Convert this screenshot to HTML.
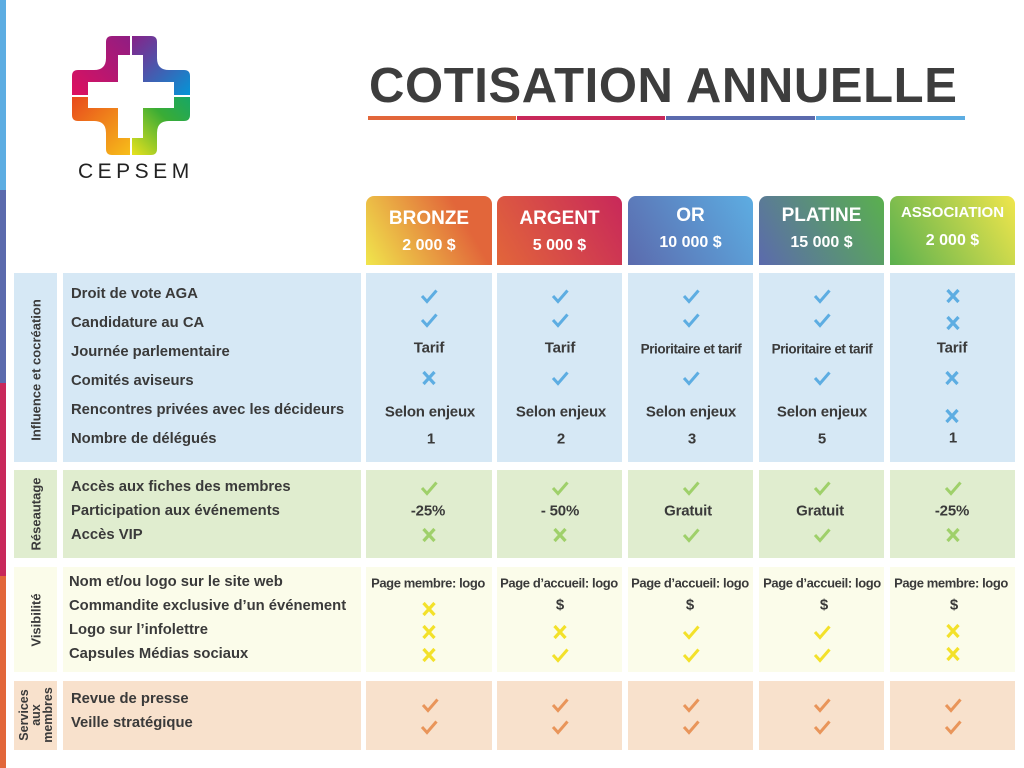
<!DOCTYPE html>
<html><head><meta charset="utf-8">
<style>
*{margin:0;padding:0;box-sizing:border-box}
body{width:1024px;height:768px;background:#fff;position:relative;overflow:hidden;font-family:"Liberation Sans",sans-serif;color:#3a3a3a}
.a{position:absolute}
.bx{position:absolute}
.t{position:absolute;font-weight:bold;font-size:15px;white-space:nowrap;transform:translate(-50%,-50%);letter-spacing:-0.2px}
.l{position:absolute;font-weight:bold;font-size:14.8px;white-space:nowrap;left:71px;transform:translateY(-50%)}
.s{position:absolute;font-weight:bold;font-size:13px;white-space:nowrap;transform:translate(-50%,-50%) rotate(-90deg);text-align:center;line-height:13px}
.i{position:absolute;width:20px;height:16px}
.h{position:absolute;top:196px;height:69px;border-radius:8px 8px 0 0;color:#fff;font-weight:bold;text-align:center}
.h b{display:block;font-size:19px;margin-top:12px}
.h span{display:block;font-size:16px;margin-top:7px}
.b{color:#5dade2}.g{color:#9fd06a}.y{color:#f3e12a}.o{color:#e9955a}
</style></head><body>
<svg width="0" height="0" style="position:absolute">
<symbol id="ck" viewBox="0 0 20 16"><path d="M3 8 L8 13.5 L17.5 2.5" fill="none" stroke="currentColor" stroke-width="3"/></symbol>
<symbol id="x" viewBox="0 0 20 16"><path d="M4.5 2 L15.5 14 M15.5 2 L4.5 14" fill="none" stroke="currentColor" stroke-width="3.2"/></symbol>
</svg>

<div class="a" style="left:0;top:0;width:6px;height:190px;background:#5dade2"></div>
<div class="a" style="left:0;top:190px;width:6px;height:193px;background:#5b6aad"></div>
<div class="a" style="left:0;top:383px;width:6px;height:193px;background:#c8285a"></div>
<div class="a" style="left:0;top:576px;width:6px;height:192px;background:#e2663a"></div>

<svg class="a" style="left:70px;top:34px" width="124" height="124" viewBox="70 34 124 124">
<defs>
<clipPath id="cr"><path d="M112 36 H151 Q157 36 157 42 V58 Q157 70 169 70 H184 Q190 70 190 76 V115 Q190 121 184 121 H169 Q157 121 157 133 V149 Q157 155 151 155 H112 Q106 155 106 149 V133 Q106 121 94 121 H78 Q72 121 72 115 V76 Q72 70 78 70 H94 Q106 70 106 58 V42 Q106 36 112 36Z"/></clipPath>
<linearGradient id="q1" x1="0" y1="1" x2="1" y2="0"><stop offset="0" stop-color="#e0105e"/><stop offset="1" stop-color="#8d1e84"/></linearGradient>
<linearGradient id="q2" x1="0" y1="0" x2="1" y2="1"><stop offset="0" stop-color="#8a1f86"/><stop offset="1" stop-color="#0098d9"/></linearGradient>
<linearGradient id="q3" x1="0" y1="0" x2="1" y2="1"><stop offset="0" stop-color="#e8461c"/><stop offset="1" stop-color="#f7c21a"/></linearGradient>
<linearGradient id="q4" x1="1" y1="0" x2="0" y2="1"><stop offset="0" stop-color="#14a66a"/><stop offset="0.4" stop-color="#3aac35"/><stop offset="1" stop-color="#f2e51c"/></linearGradient>
</defs>
<g clip-path="url(#cr)">
<rect x="70" y="34" width="61" height="62" fill="url(#q1)"/>
<rect x="131" y="34" width="62" height="62" fill="url(#q2)"/>
<rect x="70" y="96" width="61" height="62" fill="url(#q3)"/>
<rect x="131" y="96" width="62" height="62" fill="url(#q4)"/>
</g>
<path d="M118 55 H143 V82 H174 V108 H143 V138 H118 V108 H88 V82 H118Z" fill="#fff"/>
<rect x="130" y="34" width="2" height="124" fill="#fff"/>
<rect x="70" y="95" width="124" height="2" fill="#fff"/>
</svg>
<div class="a" style="left:78px;top:160px;font-size:21px;letter-spacing:4.5px;color:#222;font-weight:normal">CEPSEM</div>

<div class="a" style="left:369px;top:58px;font-size:49px;font-weight:bold;color:#3d3d3d;letter-spacing:0.6px;white-space:nowrap">COTISATION ANNUELLE</div>
<div class="a" style="left:368px;top:116px;width:148px;height:4px;background:#e2663a"></div>
<div class="a" style="left:517px;top:116px;width:148px;height:4px;background:#c8285a"></div>
<div class="a" style="left:666px;top:116px;width:149px;height:4px;background:#5b6aad"></div>
<div class="a" style="left:816px;top:116px;width:149px;height:4px;background:#5dade2"></div>

<div class="h" style="left:366px;width:126px;background:linear-gradient(60deg,#f0e64c,#e2663a 75%)"><b>BRONZE</b><span>2 000 $</span></div>
<div class="h" style="left:497px;width:125px;background:linear-gradient(60deg,#e2663a,#c8285a)"><b>ARGENT</b><span>5 000 $</span></div>
<div class="h" style="left:628px;width:125px;background:linear-gradient(60deg,#5b6aad,#5dade2)"><b style="margin-top:9px">OR</b><span>10 000 $</span></div>
<div class="h" style="left:759px;width:125px;background:linear-gradient(60deg,#5b6aad,#5ab04e)"><b style="margin-top:9px">PLATINE</b><span>15 000 $</span></div>
<div class="h" style="left:890px;width:125px;background:linear-gradient(60deg,#5ab04e,#f0e64c)"><b style="margin-top:8px;font-size:15px">ASSOCIATION</b><span style="margin-top:11px">2 000 $</span></div>

<div class="bx" style="left:14px;top:273px;width:43px;height:189px;background:#d6e8f5"></div>
<div class="bx" style="left:63px;top:273px;width:298px;height:189px;background:#d6e8f5"></div>
<div class="bx" style="left:366px;top:273px;width:126px;height:189px;background:#d6e8f5"></div>
<div class="bx" style="left:497px;top:273px;width:125px;height:189px;background:#d6e8f5"></div>
<div class="bx" style="left:628px;top:273px;width:125px;height:189px;background:#d6e8f5"></div>
<div class="bx" style="left:759px;top:273px;width:125px;height:189px;background:#d6e8f5"></div>
<div class="bx" style="left:890px;top:273px;width:125px;height:189px;background:#d6e8f5"></div>

<div class="bx" style="left:14px;top:470px;width:43px;height:88px;background:#e0edcf"></div>
<div class="bx" style="left:63px;top:470px;width:298px;height:88px;background:#e0edcf"></div>
<div class="bx" style="left:366px;top:470px;width:126px;height:88px;background:#e0edcf"></div>
<div class="bx" style="left:497px;top:470px;width:125px;height:88px;background:#e0edcf"></div>
<div class="bx" style="left:628px;top:470px;width:125px;height:88px;background:#e0edcf"></div>
<div class="bx" style="left:759px;top:470px;width:125px;height:88px;background:#e0edcf"></div>
<div class="bx" style="left:890px;top:470px;width:125px;height:88px;background:#e0edcf"></div>

<div class="bx" style="left:14px;top:567px;width:43px;height:105px;background:#fbfcea"></div>
<div class="bx" style="left:63px;top:567px;width:298px;height:105px;background:#fbfcea"></div>
<div class="bx" style="left:366px;top:567px;width:126px;height:105px;background:#fbfcea"></div>
<div class="bx" style="left:497px;top:567px;width:125px;height:105px;background:#fbfcea"></div>
<div class="bx" style="left:628px;top:567px;width:125px;height:105px;background:#fbfcea"></div>
<div class="bx" style="left:759px;top:567px;width:125px;height:105px;background:#fbfcea"></div>
<div class="bx" style="left:890px;top:567px;width:125px;height:105px;background:#fbfcea"></div>

<div class="bx" style="left:14px;top:681px;width:43px;height:69px;background:#f8e1cc"></div>
<div class="bx" style="left:63px;top:681px;width:298px;height:69px;background:#f8e1cc"></div>
<div class="bx" style="left:366px;top:681px;width:126px;height:69px;background:#f8e1cc"></div>
<div class="bx" style="left:497px;top:681px;width:125px;height:69px;background:#f8e1cc"></div>
<div class="bx" style="left:628px;top:681px;width:125px;height:69px;background:#f8e1cc"></div>
<div class="bx" style="left:759px;top:681px;width:125px;height:69px;background:#f8e1cc"></div>
<div class="bx" style="left:890px;top:681px;width:125px;height:69px;background:#f8e1cc"></div>

<div class="s" style="left:36px;top:370px">Influence et cocréation</div>
<div class="s" style="left:36px;top:514px">Réseautage</div>
<div class="s" style="left:36px;top:620px">Visibilité</div>
<div class="s" style="left:36px;top:715px;line-height:12px;font-size:12.5px">Services<br>aux<br>membres</div>

<div class="l" style="top:294px">Droit de vote AGA</div>
<div class="l" style="top:323px">Candidature au CA</div>
<div class="l" style="top:352px">Journée parlementaire</div>
<div class="l" style="top:381px">Comités aviseurs</div>
<div class="l" style="top:410px">Rencontres privées avec les décideurs</div>
<div class="l" style="top:439px">Nombre de délégués</div>
<div class="l" style="top:487px">Accès aux fiches des membres</div>
<div class="l" style="top:511px">Participation aux événements</div>
<div class="l" style="top:535px">Accès VIP</div>
<div class="l" style="top:582px;left:69px">Nom et/ou logo sur le site web</div>
<div class="l" style="top:606px;left:69px">Commandite exclusive d’un événement</div>
<div class="l" style="top:630px;left:69px">Logo sur l’infolettre</div>
<div class="l" style="top:654px;left:69px">Capsules Médias sociaux</div>
<div class="l" style="top:699px">Revue de presse</div>
<div class="l" style="top:723px">Veille stratégique</div>

<svg class="i b" style="left:419px;top:288px"><use href="#ck"/></svg>
<svg class="i b" style="left:550px;top:288px"><use href="#ck"/></svg>
<svg class="i b" style="left:681px;top:288px"><use href="#ck"/></svg>
<svg class="i b" style="left:812px;top:288px"><use href="#ck"/></svg>
<svg class="i b" style="left:943px;top:288px"><use href="#x"/></svg>
<svg class="i b" style="left:419px;top:312px"><use href="#ck"/></svg>
<svg class="i b" style="left:550px;top:312px"><use href="#ck"/></svg>
<svg class="i b" style="left:681px;top:312px"><use href="#ck"/></svg>
<svg class="i b" style="left:812px;top:312px"><use href="#ck"/></svg>
<svg class="i b" style="left:943px;top:315px"><use href="#x"/></svg>
<div class="t" style="left:429px;top:348px">Tarif</div>
<div class="t" style="left:560px;top:348px">Tarif</div>
<div class="t" style="left:691px;top:349px;font-size:13.5px;letter-spacing:-0.4px">Prioritaire et tarif</div>
<div class="t" style="left:822px;top:349px;font-size:13.5px;letter-spacing:-0.4px">Prioritaire et tarif</div>
<div class="t" style="left:952px;top:348px">Tarif</div>
<svg class="i b" style="left:419px;top:370px"><use href="#x"/></svg>
<svg class="i b" style="left:550px;top:370px"><use href="#ck"/></svg>
<svg class="i b" style="left:681px;top:370px"><use href="#ck"/></svg>
<svg class="i b" style="left:812px;top:370px"><use href="#ck"/></svg>
<svg class="i b" style="left:942px;top:370px"><use href="#x"/></svg>
<div class="t" style="left:430px;top:412px">Selon enjeux</div>
<div class="t" style="left:561px;top:412px">Selon enjeux</div>
<div class="t" style="left:691px;top:412px">Selon enjeux</div>
<div class="t" style="left:822px;top:412px">Selon enjeux</div>
<svg class="i b" style="left:942px;top:408px"><use href="#x"/></svg>
<div class="t" style="left:431px;top:439px">1</div>
<div class="t" style="left:561px;top:439px">2</div>
<div class="t" style="left:692px;top:439px">3</div>
<div class="t" style="left:822px;top:439px">5</div>
<div class="t" style="left:953px;top:438px">1</div>

<svg class="i g" style="left:419px;top:480px"><use href="#ck"/></svg>
<svg class="i g" style="left:550px;top:480px"><use href="#ck"/></svg>
<svg class="i g" style="left:681px;top:480px"><use href="#ck"/></svg>
<svg class="i g" style="left:812px;top:480px"><use href="#ck"/></svg>
<svg class="i g" style="left:943px;top:480px"><use href="#ck"/></svg>
<div class="t" style="left:428px;top:511px">-25%</div>
<div class="t" style="left:560px;top:511px">- 50%</div>
<div class="t" style="left:688px;top:511px">Gratuit</div>
<div class="t" style="left:820px;top:511px">Gratuit</div>
<div class="t" style="left:952px;top:511px">-25%</div>
<svg class="i g" style="left:419px;top:527px"><use href="#x"/></svg>
<svg class="i g" style="left:550px;top:527px"><use href="#x"/></svg>
<svg class="i g" style="left:681px;top:527px"><use href="#ck"/></svg>
<svg class="i g" style="left:812px;top:527px"><use href="#ck"/></svg>
<svg class="i g" style="left:943px;top:527px"><use href="#x"/></svg>

<div class="t" style="left:428px;top:583px;font-size:13px;letter-spacing:-0.4px">Page membre: logo</div>
<div class="t" style="left:559px;top:583px;font-size:13px;letter-spacing:-0.4px">Page d’accueil: logo</div>
<div class="t" style="left:690px;top:583px;font-size:13px;letter-spacing:-0.4px">Page d’accueil: logo</div>
<div class="t" style="left:822px;top:583px;font-size:13px;letter-spacing:-0.4px">Page d’accueil: logo</div>
<div class="t" style="left:951px;top:583px;font-size:13px;letter-spacing:-0.4px">Page membre: logo</div>
<svg class="i y" style="left:419px;top:601px"><use href="#x"/></svg>
<div class="t" style="left:560px;top:605px">$</div>
<div class="t" style="left:690px;top:605px">$</div>
<div class="t" style="left:824px;top:605px">$</div>
<div class="t" style="left:954px;top:605px">$</div>
<svg class="i y" style="left:419px;top:624px"><use href="#x"/></svg>
<svg class="i y" style="left:550px;top:624px"><use href="#x"/></svg>
<svg class="i y" style="left:681px;top:624px"><use href="#ck"/></svg>
<svg class="i y" style="left:812px;top:624px"><use href="#ck"/></svg>
<svg class="i y" style="left:943px;top:623px"><use href="#x"/></svg>
<svg class="i y" style="left:419px;top:647px"><use href="#x"/></svg>
<svg class="i y" style="left:550px;top:647px"><use href="#ck"/></svg>
<svg class="i y" style="left:681px;top:647px"><use href="#ck"/></svg>
<svg class="i y" style="left:812px;top:647px"><use href="#ck"/></svg>
<svg class="i y" style="left:943px;top:646px"><use href="#x"/></svg>

<svg class="i o" style="left:420px;top:697px"><use href="#ck"/></svg>
<svg class="i o" style="left:550px;top:697px"><use href="#ck"/></svg>
<svg class="i o" style="left:681px;top:697px"><use href="#ck"/></svg>
<svg class="i o" style="left:812px;top:697px"><use href="#ck"/></svg>
<svg class="i o" style="left:943px;top:697px"><use href="#ck"/></svg>
<svg class="i o" style="left:419px;top:719px"><use href="#ck"/></svg>
<svg class="i o" style="left:550px;top:719px"><use href="#ck"/></svg>
<svg class="i o" style="left:681px;top:719px"><use href="#ck"/></svg>
<svg class="i o" style="left:812px;top:719px"><use href="#ck"/></svg>
<svg class="i o" style="left:943px;top:719px"><use href="#ck"/></svg>
</body></html>
